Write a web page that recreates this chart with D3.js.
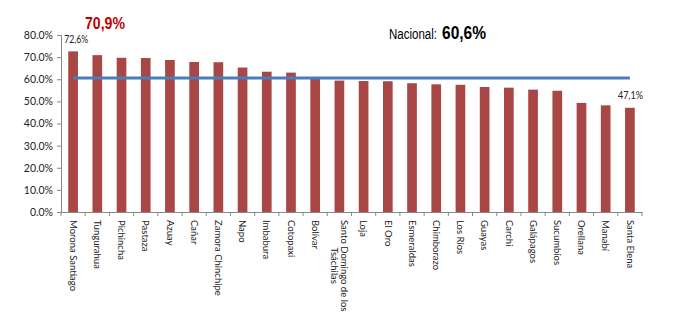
<!DOCTYPE html>
<html>
<head>
<meta charset="utf-8">
<script src="https://cdn.jsdelivr.net/npm/d3@7"></script>
<style>
  html, body { margin: 0; padding: 0; background: #fff; }
  svg { display: block; }
</style>
</head>
<body>
<script>
// Provinces, ordered from highest to lowest share
const provincias = [
  "Morona Santiago", "Tungurahua", "Pichincha", "Pastaza", "Azuay", "Cañar",
  "Zamora Chinchipe", "Napo", "Imbabura", "Cotopaxi", "Bolívar",
  "Santo Domingo de los Tsáchilas", "Loja", "El Oro", "Esmeraldas",
  "Chimborazo", "Los Ríos", "Guayas", "Carchi", "Galápagos", "Sucumbíos",
  "Orellana", "Manabí", "Santa Elena"
];
const valores = [
  72.6, 70.9, 69.7, 69.6, 68.7, 67.8,
  67.7, 65.3, 63.4, 63.0, 60.4,
  59.4, 59.2, 59.1, 58.2,
  57.7, 57.5, 56.5, 56.2, 55.3, 54.8,
  49.3, 48.2, 47.1
];
const nacional = 60.6;
const yTicks = [0, 10, 20, 30, 40, 50, 60, 70, 80];

const W = 683, H = 325;
const margin = { left: 61, right: 41, top: 35, bottom: 113 };

const svg = d3.select("body").append("svg")
  .attr("width", W).attr("height", H);

const x = d3.scaleBand()
  .domain(provincias)
  .range([margin.left, W - margin.right])
  .paddingInner(0.6)
  .paddingOuter(0.3);

const y = d3.scaleLinear()
  .domain([0, 80])
  .range([H - margin.bottom, margin.top]);

const font = "Lato, 'Open Sans', sans-serif";
const sans = "'Liberation Sans', Arial, sans-serif";

// Bars
svg.append("g").selectAll("rect")
  .data(provincias)
  .join("rect")
  .attr("x", d => x(d))
  .attr("width", x.bandwidth())
  .attr("y", (d, i) => y(valores[i]))
  .attr("height", (d, i) => y(0) - y(valores[i]))
  .attr("fill", "#a94646");

// Y axis
const yAxis = d3.axisLeft(y)
  .tickValues(yTicks)
  .tickFormat(d => d3.format(".1f")(d) + "%")
  .tickSize(4)
  .tickPadding(4);
const gy = svg.append("g")
  .attr("transform", `translate(${margin.left},0)`)
  .call(yAxis);
gy.select(".domain").attr("stroke", "#888");
gy.selectAll(".tick line").attr("stroke", "#888");
gy.selectAll(".tick text")
  .attr("font-family", font)
  .attr("font-size", 10.5)
  .attr("fill", "#222");

// X axis (categories, rotated labels)
const xAxis = d3.axisBottom(x).tickSize(0).tickPadding(0);
const gx = svg.append("g")
  .attr("transform", `translate(0,${y(0)})`)
  .call(xAxis);
gx.select(".domain").attr("stroke", "#888");
gx.selectAll(".tick text").remove();

// Category boundary ticks
const step = x.step();
const x0 = margin.left;
gx.selectAll(".bnd")
  .data(d3.range(provincias.length + 1))
  .join("line")
  .attr("class", "bnd")
  .attr("x1", i => x0 + i * step)
  .attr("x2", i => x0 + i * step)
  .attr("y1", 0).attr("y2", 4)
  .attr("stroke", "#888");

// Rotated category labels
const lbl = svg.append("g").selectAll("g")
  .data(provincias)
  .join("g")
  .attr("transform", d => `translate(${x(d) + x.bandwidth() / 2},${y(0) + 8}) rotate(90)`);

lbl.each(function (d) {
  const g = d3.select(this);
  const lines = d === "Santo Domingo de los Tsáchilas"
    ? ["Santo Domingo de los", "Tsáchilas"] : [d];
  const t = g.append("text")
    .attr("font-family", font)
    .attr("font-size", 9.5)
    .attr("fill", "#222");
  lines.forEach((s, k) => {
    t.append("tspan")
      .attr("x", 0)
      .attr("y", (k - (lines.length - 1) / 2) * 10 + 3.3)
      .text(s);
  });
  if (lines.length > 1) {
    // second line centered under the first
    const w1 = t.select("tspan").node().getComputedTextLength();
    t.selectAll("tspan").each(function () {
      const w = this.getComputedTextLength();
      d3.select(this).attr("x", (w1 - w) / 2);
    });
  }
});

// National average line
const xc = d => x(d) + x.bandwidth() / 2;
svg.append("line")
  .attr("x1", xc(provincias[0]))
  .attr("x2", xc(provincias[provincias.length - 1]))
  .attr("y1", y(nacional)).attr("y2", y(nacional))
  .attr("stroke", "#4a7ebb")
  .attr("stroke-width", 3);

// Value annotations
const fmt = v => d3.format(".1f")(v).replace(".", ",") + "%";
svg.append("text")
  .attr("x", x(provincias[0]) - 4)
  .attr("y", y(valores[0]) - 8)
  .attr("font-family", font).attr("font-size", 11).attr("fill", "#222")
  .attr("textLength", 24).attr("lengthAdjust", "spacingAndGlyphs")
  .text(fmt(valores[0]));

svg.append("text")
  .attr("x", xc(provincias[23]) - 12)
  .attr("y", y(valores[23]) - 9)
  .attr("font-family", font).attr("font-size", 11).attr("fill", "#222")
  .attr("textLength", 25).attr("lengthAdjust", "spacingAndGlyphs")
  .text(fmt(valores[23]));

svg.append("text")
  .attr("x", 85)
  .attr("y", 29)
  .attr("font-family", sans)
  .attr("font-size", 17).attr("font-weight", "bold").attr("fill", "#c00000")
  .attr("textLength", 40).attr("lengthAdjust", "spacingAndGlyphs")
  .text(fmt(valores[1]));

svg.append("text")
  .attr("x", 389)
  .attr("y", 39)
  .attr("font-family", sans)
  .attr("font-size", 14).attr("fill", "#000")
  .attr("textLength", 48).attr("lengthAdjust", "spacingAndGlyphs")
  .text("Nacional:");
svg.append("text")
  .attr("x", 442)
  .attr("y", 39)
  .attr("font-family", sans)
  .attr("font-size", 18).attr("font-weight", "bold").attr("fill", "#000")
  .attr("textLength", 44).attr("lengthAdjust", "spacingAndGlyphs")
  .text(fmt(nacional));
</script>
</body>
</html>
